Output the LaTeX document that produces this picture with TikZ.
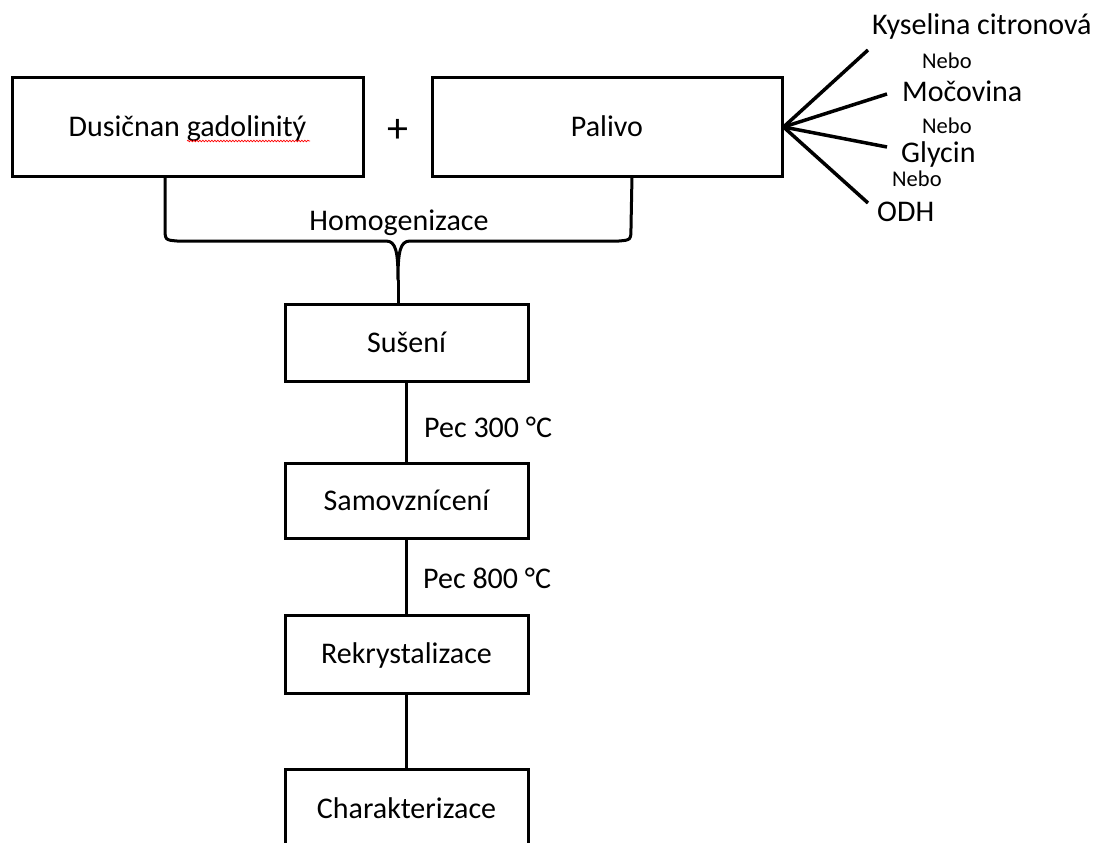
\documentclass[tikz,border=0pt]{standalone}
\usepackage{fontspec}
\setmainfont{Carlito}
\usetikzlibrary{decorations.pathmorphing}
\begin{document}
\begin{tikzpicture}[x=1pt,y=-1pt,
  box/.style={draw, line width=3pt, rectangle, inner sep=0pt, minimum width=243pt, text height=19.5pt, text depth=0pt, font=\fontsize{30}{36}\selectfont},
  big/.style={font=\fontsize{30}{36}\selectfont, inner sep=0pt},
  small/.style={font=\fontsize{22.5}{27}\selectfont, inner sep=0pt},
  conn/.style={line width=3pt},
  fan/.style={line width=3.5pt},
  squiggle/.style={red, line width=0.7pt, decorate, decoration={snake, amplitude=0.8pt, segment length=3pt}}]
\useasboundingbox (0,0) rectangle (1098,843);
\clip (0,0) rectangle (1098,843);

% top boxes
\node[box, minimum width=351pt, minimum height=98pt] (dus) at (187.5,127) {Dusičnan gadolinitý};
\node[font=\fontsize{42}{48}\selectfont, inner sep=0pt] (plus) at (398,131) {+};
\node[box, minimum width=350pt, minimum height=98pt] (pal) at (607,127) {Palivo};
\draw[squiggle] (187,141) -- (310,141);

% process boxes
\node[box, minimum height=77pt] (sus) at (406.5,342.5) {Sušení};
\node[box, minimum height=75pt] (sam) at (406.5,500.5) {Samovznícení};
\node[box, minimum height=78pt] (rek) at (406.5,654) {Rekrystalizace};
\node[box, minimum height=150pt] (cha) at (406.5,844) {};
\node[big, anchor=base] (chat) at (406.5,818) {Charakterizace};

% labels
\node[big, anchor=base] (hom) at (399,230) {Homogenizace};
\node[big, anchor=base west] (p300) at (424,437) {Pec 300 °C};
\node[big, anchor=base west] (p800) at (423,588) {Pec 800 °C};

% fuel options
\node[big, anchor=base west] (kys) at (872,35) {Kyselina citronová};
\node[small, anchor=base west] (n1) at (922,69) {Nebo};
\node[big, anchor=base west] (moc) at (902,102) {Močovina};
\node[small, anchor=base west] (n2) at (922,133) {Nebo};
\node[big, anchor=base west] (gly) at (901,162) {Glycin};
\node[small, anchor=base west] (n3) at (892,186) {Nebo};
\node[big, anchor=base west] (odh) at (877,221) {ODH};

\coordinate (f1) at (868,50);
\coordinate (f2) at (887,94);
\coordinate (f3) at (887,147);
\coordinate (f4) at (868,203);
\draw[fan] (pal.east) -- (f1);
\draw[fan] (pal.east) -- (f2);
\draw[fan] (pal.east) -- (f3);
\draw[fan] (pal.east) -- (f4);

% brace
\coordinate (bl) at (165,176);
\coordinate (br) at (632,176);
\coordinate (tip) at (398,280);
\draw[conn, line join=round] (bl) -- (165,227) .. controls (165,240) .. (177,241) -- (386,241)
  .. controls (396,241) and (398,252) .. (tip)
  .. controls (398,252) and (400,241) .. (410,241) -- (619,241)
  .. controls (631,240) .. (631,227) -- (br);
\draw[conn] (tip) -- (tip |- sus.north);

% connectors
\draw[conn] (sus.south) -- (sam.north);
\draw[conn] (sam.south) -- (rek.north);
\draw[conn] (rek.south) -- (cha.north);
\end{tikzpicture}
\end{document}
